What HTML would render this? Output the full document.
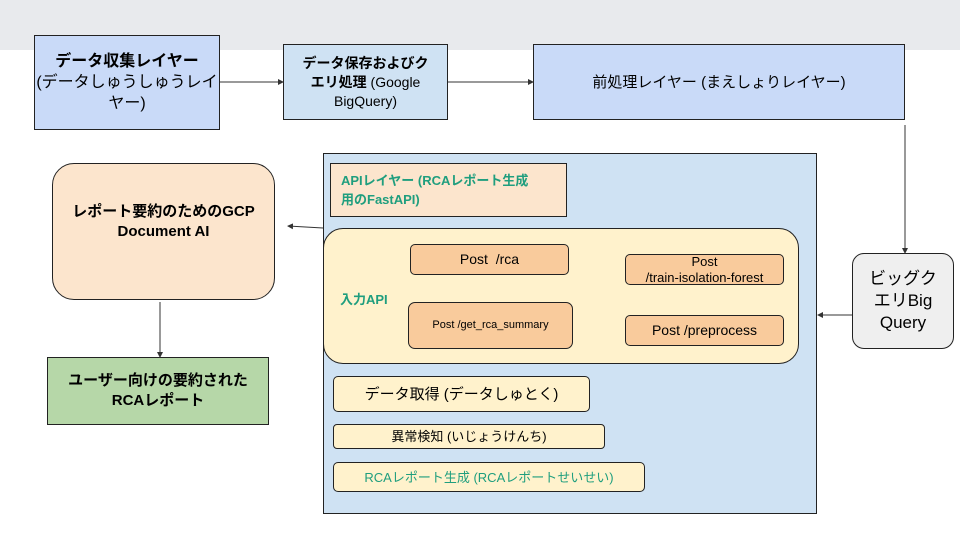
<!DOCTYPE html>
<html><head><meta charset="utf-8"><style>
body{margin:0;width:960px;height:540px;position:relative;background:#fff;overflow:hidden;font-family:"Liberation Sans","Noto Sans CJK JP",sans-serif;color:#000}
.b{position:absolute;box-sizing:border-box;border:1px solid #222;display:flex;align-items:center;justify-content:center;text-align:center;font-size:14px;line-height:19px}
.bold{font-weight:bold}
.teal{color:#1f9e7e}
</style></head><body>
<div style="position:absolute;left:0;top:0;width:960px;height:50px;background:#e8eaed"></div>

<div class="b" style="left:34px;top:35px;width:186px;height:95px;background:#c9daf8;font-size:16px;line-height:21px"><div><b>データ収集レイヤー</b><br>(データしゅうしゅうレイ<br>ヤー)</div></div>
<div class="b" style="left:283px;top:44px;width:165px;height:76px;background:#cfe2f3"><div><b>データ保存およびク<br>エリ処理</b> (Google<br>BigQuery)</div></div>
<div class="b" style="left:533px;top:44px;width:372px;height:76px;background:#c9daf8;font-size:15px">前処理レイヤー (まえしょりレイヤー)</div>

<div class="b" style="left:323px;top:153px;width:494px;height:361px;background:#cfe2f3"></div>
<div class="b teal bold" style="left:330px;top:163px;width:237px;height:54px;background:#fce5cd;justify-content:flex-start;text-align:left;padding-left:10px;font-size:13px">APIレイヤー (RCAレポート生成<br>用のFastAPI)</div>
<div class="b" style="left:323px;top:228px;width:476px;height:136px;background:#fff2cc;border-radius:20px"></div>
<div class="teal bold" style="position:absolute;left:340px;top:289px;font-size:13px">入力API</div>
<div class="b" style="left:410px;top:244px;width:159px;height:31px;background:#f9cb9c;border-radius:5px">Post&nbsp; /rca</div>
<div class="b" style="left:625px;top:254px;width:159px;height:31px;background:#f9cb9c;border-radius:5px;line-height:16px;font-size:13px"><div>Post<br>/train-isolation-forest</div></div>
<div class="b" style="left:408px;top:302px;width:165px;height:47px;background:#f9cb9c;border-radius:7px;font-size:11px">Post /get_rca_summary</div>
<div class="b" style="left:625px;top:315px;width:159px;height:31px;background:#f9cb9c;border-radius:5px">Post /preprocess</div>

<div class="b" style="left:333px;top:376px;width:257px;height:36px;background:#fff2cc;border-radius:5px;font-size:15px">データ取得 (データしゅとく)</div>
<div class="b" style="left:333px;top:424px;width:272px;height:25px;background:#fff2cc;border-radius:4px;font-size:13px">異常検知 (いじょうけんち)</div>
<div class="b teal" style="left:333px;top:462px;width:312px;height:30px;background:#fff2cc;border-radius:5px;font-size:13px">RCAレポート生成 (RCAレポートせいせい)</div>

<div class="b bold" style="left:52px;top:163px;width:223px;height:137px;background:#fce5cd;border-radius:22px;padding-bottom:20px;font-size:15px;line-height:20px"><div>レポート要約のためのGCP<br>Document AI</div></div>
<div class="b bold" style="left:47px;top:357px;width:222px;height:68px;background:#b6d7a8;font-size:15px;line-height:20px"><div>ユーザー向けの要約された<br>RCAレポート</div></div>
<div class="b" style="left:852px;top:253px;width:102px;height:96px;background:#efefef;border-radius:12px;font-size:17px;line-height:22px"><div>ビッグク<br>エリBig<br>Query</div></div>

<svg width="960" height="540" style="position:absolute;left:0;top:0">
<defs><marker id="a" markerWidth="6" markerHeight="6" refX="5" refY="3" orient="auto"><path d="M0,0L6,3L0,6z" fill="#333"/></marker></defs>
<g stroke="#333" stroke-width="1" fill="none" marker-end="url(#a)">
<line x1="220" y1="82" x2="283" y2="82"/>
<line x1="448" y1="82" x2="533" y2="82"/>
<line x1="905" y1="125" x2="905" y2="253"/>
<line x1="852" y1="315" x2="818" y2="315"/>
<line x1="323" y1="228" x2="288" y2="226"/>
<line x1="160" y1="302" x2="160" y2="357"/>
</g></svg>
</body></html>
